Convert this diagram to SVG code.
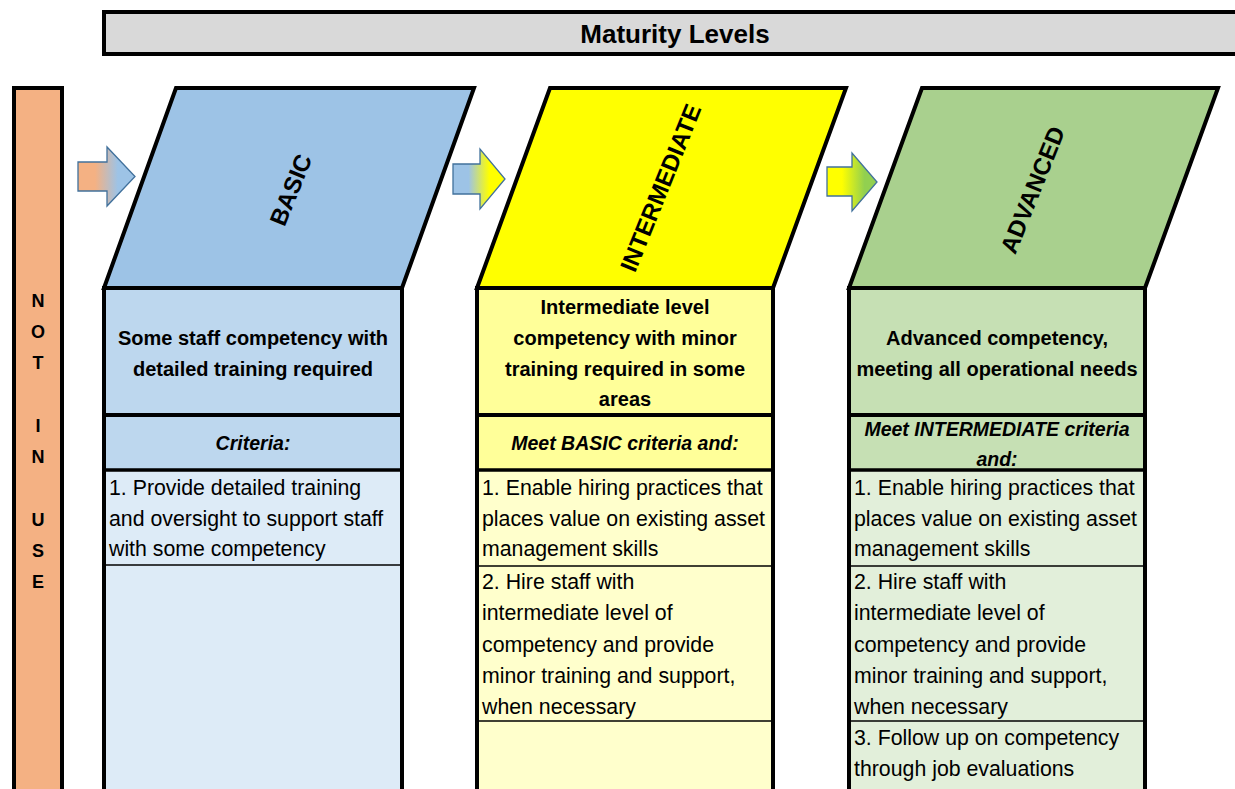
<svg xmlns="http://www.w3.org/2000/svg" width="1235" height="789" viewBox="0 0 1235 789">
<style>
text{font-family:"Liberation Sans",Arial,sans-serif;fill:#000}
.hd{font-size:20px;font-weight:bold;text-anchor:middle}
.cr{font-size:19.5px;font-weight:bold;font-style:italic;text-anchor:middle}
.it{font-size:21.3px}
.lv{font-size:24px;font-weight:bold;text-anchor:middle}
.nu{font-size:18px;font-weight:bold;text-anchor:middle}
.thick{stroke:#000;stroke-width:4;fill:none}
.mid{stroke:#000;stroke-width:3.5;fill:none}
.thin{stroke:#000;stroke-width:1.5;fill:none}
.para{stroke:#000;stroke-width:4;stroke-linejoin:miter}
.arr{stroke:#41719c;stroke-width:1.3}
</style>
<defs>
<linearGradient id="g1" x1="0" y1="0" x2="1" y2="0"><stop offset="0" stop-color="#f4b183"/><stop offset="0.3" stop-color="#f4b183"/><stop offset="0.7" stop-color="#9dc3e6"/><stop offset="1" stop-color="#9dc3e6"/></linearGradient>
<linearGradient id="g2" x1="0" y1="0" x2="1" y2="0"><stop offset="0" stop-color="#9dc3e6"/><stop offset="0.3" stop-color="#9dc3e6"/><stop offset="0.7" stop-color="#ffff00"/><stop offset="1" stop-color="#ffff00"/></linearGradient>
<linearGradient id="g3" x1="0" y1="0" x2="1" y2="0"><stop offset="0" stop-color="#ffff00"/><stop offset="0.3" stop-color="#ffff00"/><stop offset="0.75" stop-color="#92d050"/><stop offset="1" stop-color="#92d050"/></linearGradient>
</defs>

<g id="title">
<rect x="104" y="12" width="1140" height="42" fill="#d9d9d9" stroke="#000" stroke-width="4"/>
<text x="675" y="43" style="font-size:26px;font-weight:bold;text-anchor:middle">Maturity Levels</text>
</g>

<g id="not-in-use">
<rect x="14" y="88" width="48" height="720" fill="#f4b183" stroke="#000" stroke-width="4"/>
<text class="nu" x="38" y="307">N</text>
<text class="nu" x="38" y="338">O</text>
<text class="nu" x="38" y="369">T</text>
<text class="nu" x="38" y="432">I</text>
<text class="nu" x="38" y="463">N</text>
<text class="nu" x="38" y="526">U</text>
<text class="nu" x="38" y="557">S</text>
<text class="nu" x="38" y="588">E</text>
</g>

<g id="basic">
<rect x="104" y="288" width="298" height="182" fill="#bdd7ee"/>
<rect x="104" y="470" width="298" height="330" fill="#ddebf7"/>
<polygon class="para" points="104,288 176,88 474,88 402,288" fill="#9dc3e6"/>
<text class="lv" transform="translate(291,190) rotate(-68)" y="8">BASIC</text>
<line class="thick" x1="104" y1="415" x2="402" y2="415"/>
<line class="mid" x1="104" y1="470" x2="402" y2="470"/>
<line class="thin" x1="104" y1="565" x2="402" y2="565"/>
<line class="thick" x1="104" y1="286" x2="104" y2="800"/>
<line class="thick" x1="402" y1="286" x2="402" y2="800"/>
<text class="hd" x="253" y="345">Some staff competency with</text>
<text class="hd" x="253" y="376">detailed training required</text>
<text class="cr" x="253" y="450">Criteria:</text>
<text class="it" x="109" y="495">1. Provide detailed training</text>
<text class="it" x="109" y="526">and oversight to support staff</text>
<text class="it" x="109" y="556">with some competency</text>
</g>

<g id="intermediate">
<rect x="477" y="288" width="296" height="182" fill="#ffff99"/>
<rect x="477" y="470" width="296" height="330" fill="#ffffcc"/>
<polygon class="para" points="477,288 550,88 846,88 773,288" fill="#ffff00"/>
<text class="lv" transform="translate(661,188) rotate(-68)" y="8">INTERMEDIATE</text>
<line class="thick" x1="477" y1="415" x2="773" y2="415"/>
<line class="mid" x1="477" y1="470" x2="773" y2="470"/>
<line class="thin" x1="477" y1="566" x2="773" y2="566"/>
<line class="thin" x1="477" y1="721" x2="773" y2="721"/>
<line class="thick" x1="477" y1="286" x2="477" y2="800"/>
<line class="thick" x1="773" y1="286" x2="773" y2="800"/>
<text class="hd" x="625" y="314">Intermediate level</text>
<text class="hd" x="625" y="345">competency with minor</text>
<text class="hd" x="625" y="376">training required in some</text>
<text class="hd" x="625" y="406">areas</text>
<text class="cr" x="625" y="450">Meet BASIC criteria and:</text>
<text class="it" x="482" y="495">1. Enable hiring practices that</text>
<text class="it" x="482" y="526">places value on existing asset</text>
<text class="it" x="482" y="556">management skills</text>
<text class="it" x="482" y="589">2. Hire staff with</text>
<text class="it" x="482" y="620">intermediate level of</text>
<text class="it" x="482" y="652">competency and provide</text>
<text class="it" x="482" y="683">minor training and support,</text>
<text class="it" x="482" y="714">when necessary</text>
</g>

<g id="advanced">
<rect x="849" y="288" width="296" height="182" fill="#c6e0b4"/>
<rect x="849" y="470" width="296" height="330" fill="#e2efda"/>
<polygon class="para" points="849,288 922,88 1218,88 1145,288" fill="#a9d08e"/>
<text class="lv" transform="translate(1033,190) rotate(-68)" y="8">ADVANCED</text>
<line class="thick" x1="849" y1="415" x2="1145" y2="415"/>
<line class="mid" x1="849" y1="470" x2="1145" y2="470"/>
<line class="thin" x1="849" y1="566" x2="1145" y2="566"/>
<line class="thin" x1="849" y1="721" x2="1145" y2="721"/>
<line class="thick" x1="849" y1="286" x2="849" y2="800"/>
<line class="thick" x1="1145" y1="286" x2="1145" y2="800"/>
<text class="hd" x="997" y="345">Advanced competency,</text>
<text class="hd" x="997" y="376">meeting all operational needs</text>
<text class="cr" x="997" y="436">Meet INTERMEDIATE criteria</text>
<text class="cr" x="997" y="466">and:</text>
<text class="it" x="854" y="495">1. Enable hiring practices that</text>
<text class="it" x="854" y="526">places value on existing asset</text>
<text class="it" x="854" y="556">management skills</text>
<text class="it" x="854" y="589">2. Hire staff with</text>
<text class="it" x="854" y="620">intermediate level of</text>
<text class="it" x="854" y="652">competency and provide</text>
<text class="it" x="854" y="683">minor training and support,</text>
<text class="it" x="854" y="714">when necessary</text>
<text class="it" x="854" y="745">3. Follow up on competency</text>
<text class="it" x="854" y="776">through job evaluations</text>
</g>

<g id="connectors">
<path class="arr" fill="url(#g1)" d="M78,162 H107 V147 L135,176.5 L107,206 V191 H78 Z"/>
<path class="arr" fill="url(#g2)" d="M453,164 H480 V149 L505,179 L480,209 V194 H453 Z"/>
<path class="arr" fill="url(#g3)" d="M827,167 H852 V153 L877,182 L852,211 V196 H827 Z"/>
</g>
</svg>
